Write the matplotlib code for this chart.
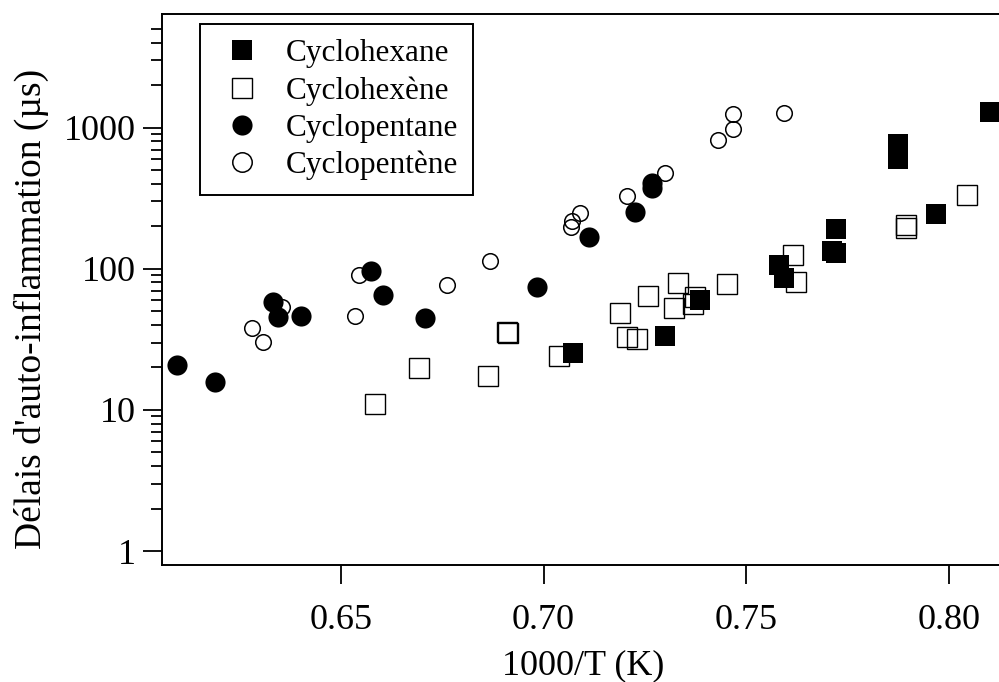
import matplotlib
matplotlib.use("Agg")
import matplotlib.pyplot as plt
from matplotlib.lines import Line2D
from matplotlib.ticker import FixedLocator, NullFormatter, NullLocator

plt.rcParams['font.family'] = ['Liberation Serif', 'DejaVu Serif']

# Cyclohexane (filled squares)
hexane_x = [0.7073, 0.7300, 0.7386, 0.7581, 0.7593, 0.7712, 0.7721, 0.7721,
            0.7875, 0.7875, 0.7969, 0.8100]
hexane_y = [25.2, 33.2, 59.8, 106, 85.6, 133, 129, 190,
            770, 595, 243, 1298]

# Cyclohexene (open squares)
hexene_x = [0.6584, 0.6693, 0.6863, 0.6913, 0.6910, 0.7038, 0.7189, 0.7205,
            0.7231, 0.7257, 0.7321, 0.7331, 0.7374, 0.7369, 0.7452, 0.7616,
            0.7622, 0.7895, 0.7895, 0.8045]
hexene_y = [11.1, 19.8, 17.4, 34.9, 35.6, 24.2, 48.4, 33.0,
            32.0, 63.8, 52.5, 79.7, 62.8, 56.0, 78.0, 126,
            80.2, 204, 194, 332]

# Cyclopentane (filled circles)
pentane_x = [0.6097, 0.6189, 0.6333, 0.6345, 0.6402, 0.6574, 0.6604, 0.6707,
             0.6983, 0.7113, 0.7226, 0.7268, 0.7268]
pentane_y = [20.8, 15.8, 57.9, 45.3, 46.0, 96, 64.8, 44.6,
             74, 169, 253, 408, 376]

# Cyclopentene (open circles)
pentene_x = [0.6281, 0.6309, 0.6354, 0.6544, 0.6536, 0.6761, 0.6867, 0.7070,
             0.7068, 0.7089, 0.7205, 0.7300, 0.7430, 0.7468, 0.7468, 0.7592]
pentene_y = [38.2, 30.1, 53.9, 90.8, 46.3, 76.8, 113, 219,
             197, 250, 328, 475, 818, 975, 1245, 1277]

labels = ['Cyclohexane', 'Cyclohex\u00e8ne', 'Cyclopentane', 'Cyclopent\u00e8ne']

fig = plt.figure(figsize=(9.99, 6.82), dpi=100)
ax = fig.add_axes([162 / 999, 117 / 682, 843 / 999, 551 / 682])

ax.plot(hexene_x, hexene_y, 's', ms=13.8, mfc='none', mec='black', mew=1.0, zorder=2)
ax.plot(pentene_x, pentene_y, 'o', ms=11.2, mfc='none', mec='black', mew=1.1, zorder=2)
ax.plot(hexane_x, hexane_y, 's', ms=15, mfc='black', mec='black', mew=0, zorder=3)
ax.plot(pentane_x, pentane_y, 'o', ms=14.5, mfc='black', mec='black', mew=0, zorder=3)

ax.set_yscale('log')
ax.set_xlim(0.6059, 0.8138)
ax.set_ylim(0.796, 6390)

ax.set_xticks([0.65, 0.70, 0.75, 0.80])
ax.set_xticklabels(['0.65', '0.70', '0.75', '0.80'])
ax.xaxis.set_minor_locator(NullLocator())

ax.yaxis.set_major_locator(FixedLocator([1, 10, 100, 1000]))
ax.set_yticklabels(['1', '10', '100', '1000'])
minor = [m * d for d in [1, 10, 100] for m in range(2, 10)] + [2000, 3000, 4000, 5000]
ax.yaxis.set_minor_locator(FixedLocator(minor))
ax.yaxis.set_minor_formatter(NullFormatter())

ax.tick_params(which='major', direction='out', length=14, width=1.3, labelsize=26)
ax.tick_params(axis='x', which='major', pad=14)
ax.tick_params(axis='y', which='major', pad=5)
ax.tick_params(which='minor', direction='out', length=8, width=1.3)
ax.tick_params(top=False, right=False, which='both')

for s in ax.spines.values():
    s.set_linewidth(1.4)

ax.set_xlabel('1000/T (K)', fontsize=26, labelpad=9)
ax.set_ylabel("D\u00e9lais d'auto-inflammation (\u00b5s)", fontsize=27)
ax.yaxis.set_label_coords(-0.134, 0.4646)

# legend markers are drawn a bit bigger than the plotted ones
handles = [
    Line2D([], [], ls='none', marker='s', ms=14.5, mfc='black', mec='black', mew=0),
    Line2D([], [], ls='none', marker='s', ms=14, mfc='none', mec='black', mew=1.0),
    Line2D([], [], ls='none', marker='o', ms=14.5, mfc='black', mec='black', mew=0),
    Line2D([], [], ls='none', marker='o', ms=14, mfc='none', mec='black', mew=1.1),
]
leg = ax.legend(handles, labels, loc='upper left',
                bbox_to_anchor=(0.0451, 0.9819), borderaxespad=0,
                fontsize=22.5, handlelength=1.74, handletextpad=0.53,
                borderpad=0.48, labelspacing=0.26, fancybox=False,
                framealpha=1, edgecolor='black', numpoints=1)
leg.get_frame().set_linewidth(1.4)

fig.savefig('out.png', dpi=100)
